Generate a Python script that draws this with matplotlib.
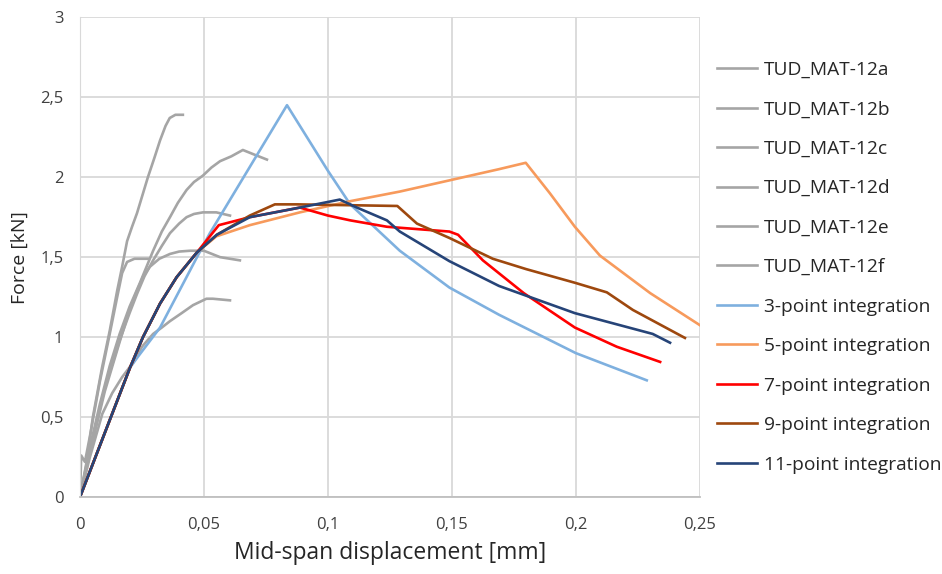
import matplotlib
matplotlib.use('Agg')
import matplotlib.pyplot as plt
from matplotlib.ticker import FuncFormatter

# test data (grey)
mat_a_x = [0, 0.0028, 0.0052, 0.0089, 0.012, 0.015, 0.017, 0.019, 0.021, 0.023, 0.0274, 0.030, 0.0323, 0.0345,
           0.0362, 0.0385, 0.0415]
mat_a_y = [0, 0.23, 0.50, 0.81, 1.04, 1.29, 1.44, 1.60, 1.69, 1.775, 2.00, 2.12, 2.23, 2.32, 2.37, 2.39, 2.39]

mat_b_x = [0, 0.004, 0.008, 0.012, 0.016, 0.020, 0.0242, 0.0295, 0.033, 0.0363, 0.0395, 0.043, 0.046, 0.0496,
           0.053, 0.0565, 0.061, 0.0657, 0.0705, 0.0754]
mat_b_y = [0, 0.31, 0.58, 0.82, 1.02, 1.19, 1.34, 1.54, 1.66, 1.75, 1.84, 1.92, 1.97, 2.01,
           2.06, 2.10, 2.13, 2.17, 2.14, 2.11]

mat_c_x = [0, 0.005, 0.010, 0.016, 0.020, 0.023, 0.026, 0.0295, 0.033, 0.0363, 0.040, 0.043, 0.046, 0.0496,
           0.055, 0.0605]
mat_c_y = [0, 0.36, 0.68, 0.98, 1.15, 1.27, 1.38, 1.48, 1.57, 1.65, 1.71, 1.75, 1.77, 1.78, 1.78, 1.76]

mat_d_x = [0, 0.005, 0.010, 0.016, 0.020, 0.023, 0.0255, 0.0282, 0.032, 0.0363, 0.040, 0.0444, 0.050,
           0.0565, 0.0645]
mat_d_y = [0, 0.34, 0.66, 0.97, 1.17, 1.29, 1.38, 1.44, 1.49, 1.52, 1.535, 1.54, 1.54, 1.50, 1.48]

mat_e_x = [0, 0.004, 0.009, 0.013, 0.017, 0.0214, 0.025, 0.0295, 0.033, 0.0363, 0.041, 0.0456, 0.051,
           0.0536, 0.0605]
mat_e_y = [0, 0.25, 0.52, 0.65, 0.75, 0.84, 0.94, 1.02, 1.06, 1.10, 1.15, 1.20, 1.24, 1.24, 1.23]

mat_f_x = [0, 0.0005, 0.002, 0.004, 0.008, 0.012, 0.015, 0.017, 0.019, 0.022, 0.0275]
mat_f_y = [0, 0.26, 0.22, 0.38, 0.72, 1.02, 1.25, 1.40, 1.47, 1.49, 1.49]

# numerical results
int3_x = [0, 0.0202, 0.0235, 0.0323, 0.0472, 0.0524, 0.0835, 0.100, 0.109, 0.129, 0.149, 0.169, 0.200, 0.2286]
int3_y = [0, 0.81, 0.88, 1.06, 1.50, 1.65, 2.45, 2.04, 1.83, 1.54, 1.31, 1.14, 0.90, 0.73]

int5_x = [0, 0.0202, 0.0254, 0.0323, 0.039, 0.0472, 0.055, 0.0685, 0.0887, 0.109, 0.129, 0.149, 0.169,
          0.1798, 0.1895, 0.1996, 0.2097, 0.230, 0.250]
int5_y = [0, 0.81, 1.00, 1.21, 1.375, 1.53, 1.63, 1.70, 1.78, 1.85, 1.91, 1.98, 2.05,
          2.09, 1.90, 1.69, 1.51, 1.275, 1.075]

int7_x = [0, 0.0202, 0.0254, 0.0323, 0.039, 0.0472, 0.056, 0.0685, 0.0887, 0.100, 0.109, 0.1238, 0.149,
          0.1525, 0.1625, 0.179, 0.1996, 0.2165, 0.234]
int7_y = [0, 0.81, 1.00, 1.21, 1.375, 1.53, 1.70, 1.75, 1.81, 1.76, 1.73, 1.69, 1.66,
          1.64, 1.48, 1.275, 1.06, 0.94, 0.845]

int9_x = [0, 0.0202, 0.0254, 0.0323, 0.039, 0.0472, 0.0552, 0.0685, 0.0786, 0.0875, 0.128, 0.1359, 0.149,
          0.1665, 0.180, 0.1996, 0.2125, 0.223, 0.244]
int9_y = [0, 0.81, 1.00, 1.21, 1.375, 1.53, 1.64, 1.76, 1.83, 1.83, 1.82, 1.71, 1.62,
          1.49, 1.425, 1.34, 1.28, 1.17, 0.995]

int11_x = [0, 0.0202, 0.0254, 0.0323, 0.039, 0.0472, 0.0552, 0.0685, 0.0887, 0.1048, 0.1117, 0.1238, 0.129,
           0.149, 0.169, 0.1996, 0.231, 0.238]
int11_y = [0, 0.81, 1.00, 1.21, 1.375, 1.53, 1.64, 1.75, 1.81, 1.86, 1.81, 1.73, 1.66,
           1.475, 1.32, 1.15, 1.02, 0.965]

grey_series = [('TUD_MAT-12a', mat_a_x, mat_a_y), ('TUD_MAT-12b', mat_b_x, mat_b_y),
               ('TUD_MAT-12c', mat_c_x, mat_c_y), ('TUD_MAT-12d', mat_d_x, mat_d_y),
               ('TUD_MAT-12e', mat_e_x, mat_e_y), ('TUD_MAT-12f', mat_f_x, mat_f_y)]
num_series = [('3-point integration', int3_x, int3_y, '#7eb0df'),
              ('5-point integration', int5_x, int5_y, '#f79a5c'),
              ('7-point integration', int7_x, int7_y, '#ff0000'),
              ('9-point integration', int9_x, int9_y, '#9e480e'),
              ('11-point integration', int11_x, int11_y, '#264478')]

plt.rcParams['font.family'] = ['Open Sans', 'DejaVu Sans']

fig = plt.figure(figsize=(9.42, 5.74), dpi=100)
ax = fig.add_axes([0.0849, 0.134, 0.658, 0.836])

for name, xs, ys in grey_series:
    ax.plot(xs, ys, color='#a5a5a5', lw=1.9, label=name)
for name, xs, ys, c in num_series:
    ax.plot(xs, ys, color=c, lw=1.9, label=name)

ax.set_xlim(0, 0.25)
ax.set_ylim(0, 3)
ax.set_xticks([0, 0.05, 0.1, 0.15, 0.2, 0.25])
ax.set_yticks([0, 0.5, 1, 1.5, 2, 2.5, 3])
fmt = FuncFormatter(lambda v, p: ('%g' % v).replace('.', ','))
ax.xaxis.set_major_formatter(fmt)
ax.yaxis.set_major_formatter(fmt)
ax.grid(True, color='#d9d9d9', lw=1.3)
ax.set_axisbelow(True)
for s in ['top', 'right']:
    ax.spines[s].set_visible(False)
ax.spines['left'].set_color('#d9d9d9')
ax.spines['bottom'].set_color('#bfbfbf')
ax.spines['bottom'].set_linewidth(1.3)
ax.tick_params(length=0, labelsize=12, colors='#404040', pad=14)
ax.tick_params(axis='y', pad=12)
ax.set_xlabel('Mid-span displacement [mm]', fontsize=16.5, color='#262626', labelpad=6)
ax.set_ylabel('Force [kN]', fontsize=14, color='#262626', labelpad=8)

ax.legend(loc='upper left', bbox_to_anchor=(1.0, 0.945), frameon=False, fontsize=13.8,
          handlelength=2.1, labelspacing=1.12, handletextpad=0.35, labelcolor='#262626')

fig.savefig('out.png', dpi=100)
